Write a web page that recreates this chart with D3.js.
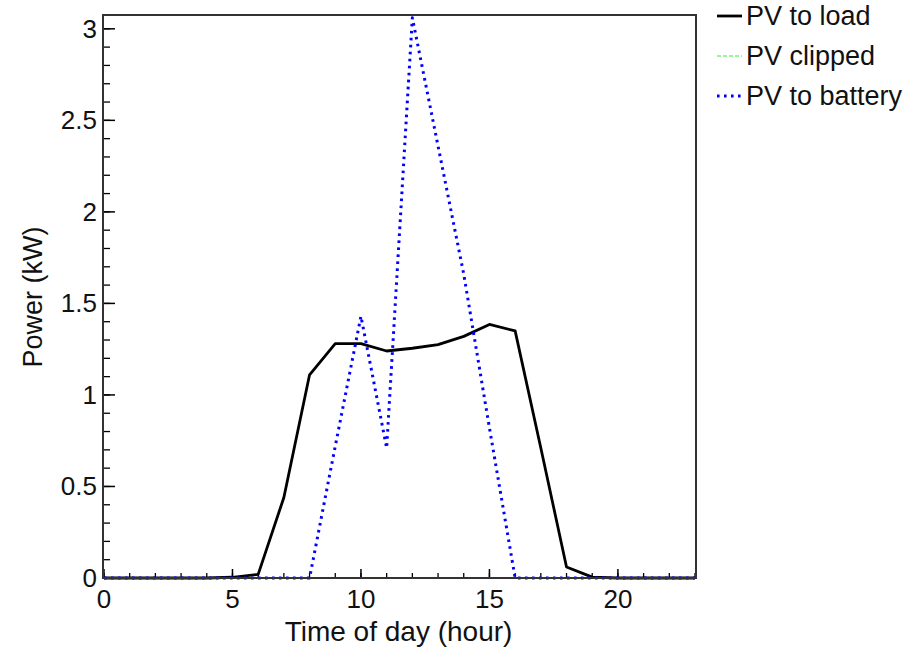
<!DOCTYPE html>
<html>
<head>
<meta charset="utf-8">
<script src="https://cdn.jsdelivr.net/npm/d3@7"></script>
<style>
  html, body { margin: 0; padding: 0; background: #fff; }
  svg { display: block; font-family: "Liberation Sans", Arial, sans-serif; }
</style>
</head>
<body>
<svg id="chart" width="918" height="647"></svg>
<script>
// ---- data ----
const hours = [0,1,2,3,4,5,6,7,8,9,10,11,12,13,14,15,16,17,18,19,20,21,22,23];
const pvToLoad =    [0,0,0,0,0,0.004,0.02,0.44,1.11,1.28,1.28,1.24,1.255,1.275,1.32,1.385,1.35,0.71,0.06,0.005,0,0,0,0];
const pvClipped =   [0,0,0,0,0,0,0,0,0,0,0,0,0,0,0,0,0,0,0,0,0,0,0,0];
const pvToBattery = [0,0,0,0,0,0,0,0,0,0.72,1.43,0.71,3.06,2.36,1.66,0.82,0,0,0,0,0,0,0,0];
const seriesNames = ["PV to load", "PV clipped", "PV to battery"];
const xTickValues = [0,5,10,15,20];
const yTickValues = [0,0.5,1,1.5,2,2.5,3];
const xLabel = "Time of day (hour)";
const yLabel = "Power (kW)";

// ---- layout ----
const svg = d3.select("#chart");
const L = 104, R = 695, T = 16, B = 578;
const x = d3.scaleLinear().domain([0, 23]).range([L, R]);
const y = d3.scaleLinear().domain([0, 3.07]).range([B, T]);

const styles = [
  { color: "#000000", width: 2.8, dash: null },
  { color: "#33ee33", width: 1, dash: "4,2" },
  { color: "#0000ff", width: 3, dash: "2.6,4.4" }
];
const data = [pvToLoad, pvClipped, pvToBattery];

// axes (ticks inside)
const xMinor = d3.range(0, 24, 1);
const yMinor = d3.range(0, 3.05, 0.1);

const g = svg.append("g");
g.selectAll(".xminor").data(xMinor).join("line")
  .attr("x1", d => x(d)).attr("x2", d => x(d))
  .attr("y1", B).attr("y2", B - 5)
  .attr("stroke", "#000").attr("stroke-width", 1.3);
g.selectAll(".xmajor").data(xTickValues).join("line")
  .attr("x1", d => x(d)).attr("x2", d => x(d))
  .attr("y1", B).attr("y2", B - 9)
  .attr("stroke", "#000").attr("stroke-width", 1.5);
g.selectAll(".yminor").data(yMinor).join("line")
  .attr("x1", L).attr("x2", L + 6)
  .attr("y1", d => y(d)).attr("y2", d => y(d))
  .attr("stroke", "#000").attr("stroke-width", 1.3);
g.selectAll(".ymajor").data(yTickValues).join("line")
  .attr("x1", L).attr("x2", L + 11)
  .attr("y1", d => y(d)).attr("y2", d => y(d))
  .attr("stroke", "#000").attr("stroke-width", 1.5);

// tick labels
g.selectAll(".xlab").data(xTickValues).join("text")
  .attr("x", d => x(d)).attr("y", B + 30)
  .attr("text-anchor", "middle")
  .attr("font-size", 26).attr("fill", "#111")
  .text(d => d3.format("~g")(d));
g.selectAll(".ylab").data(yTickValues).join("text")
  .attr("x", L - 7).attr("y", d => y(d) + 9)
  .attr("text-anchor", "end")
  .attr("font-size", 26).attr("fill", "#111")
  .text(d => d3.format("~g")(d));

// axis titles
svg.append("text")
  .attr("x", (L + R) / 2 - 1).attr("y", 641)
  .attr("text-anchor", "middle").attr("font-size", 28).attr("fill", "#111")
  .text(xLabel);
svg.append("text")
  .attr("transform", `translate(42, ${(T + B) / 2}) rotate(-90)`)
  .attr("text-anchor", "middle").attr("font-size", 27).attr("fill", "#111")
  .text(yLabel);

// lines
const line = d3.line().x((d, i) => x(hours[i])).y(d => y(d));
data.forEach((vals, k) => {
  const s = styles[k];
  svg.append("path")
    .datum(vals)
    .attr("d", line)
    .attr("fill", "none")
    .attr("stroke", s.color)
    .attr("stroke-width", s.width)
    .attr("stroke-linejoin", "round")
    .attr("stroke-dasharray", s.dash);
});

// frame
svg.append("rect")
  .attr("x", L - 1).attr("y", T - 1)
  .attr("width", R - L + 2).attr("height", B - T + 1)
  .attr("fill", "none").attr("stroke", "#333").attr("stroke-width", 2);

// legend
const leg = svg.append("g");
seriesNames.forEach((name, k) => {
  const s = styles[k];
  const cy = 16 + k * 40;
  leg.append("line")
    .attr("x1", 717).attr("x2", 742).attr("y1", cy).attr("y2", cy)
    .attr("stroke", s.color).attr("stroke-width", s.width)
    .attr("stroke-dasharray", s.dash);
  leg.append("text")
    .attr("x", 746).attr("y", cy + 9)
    .attr("font-size", 27).attr("fill", "#111")
    .text(name);
});
</script>
</body>
</html>
